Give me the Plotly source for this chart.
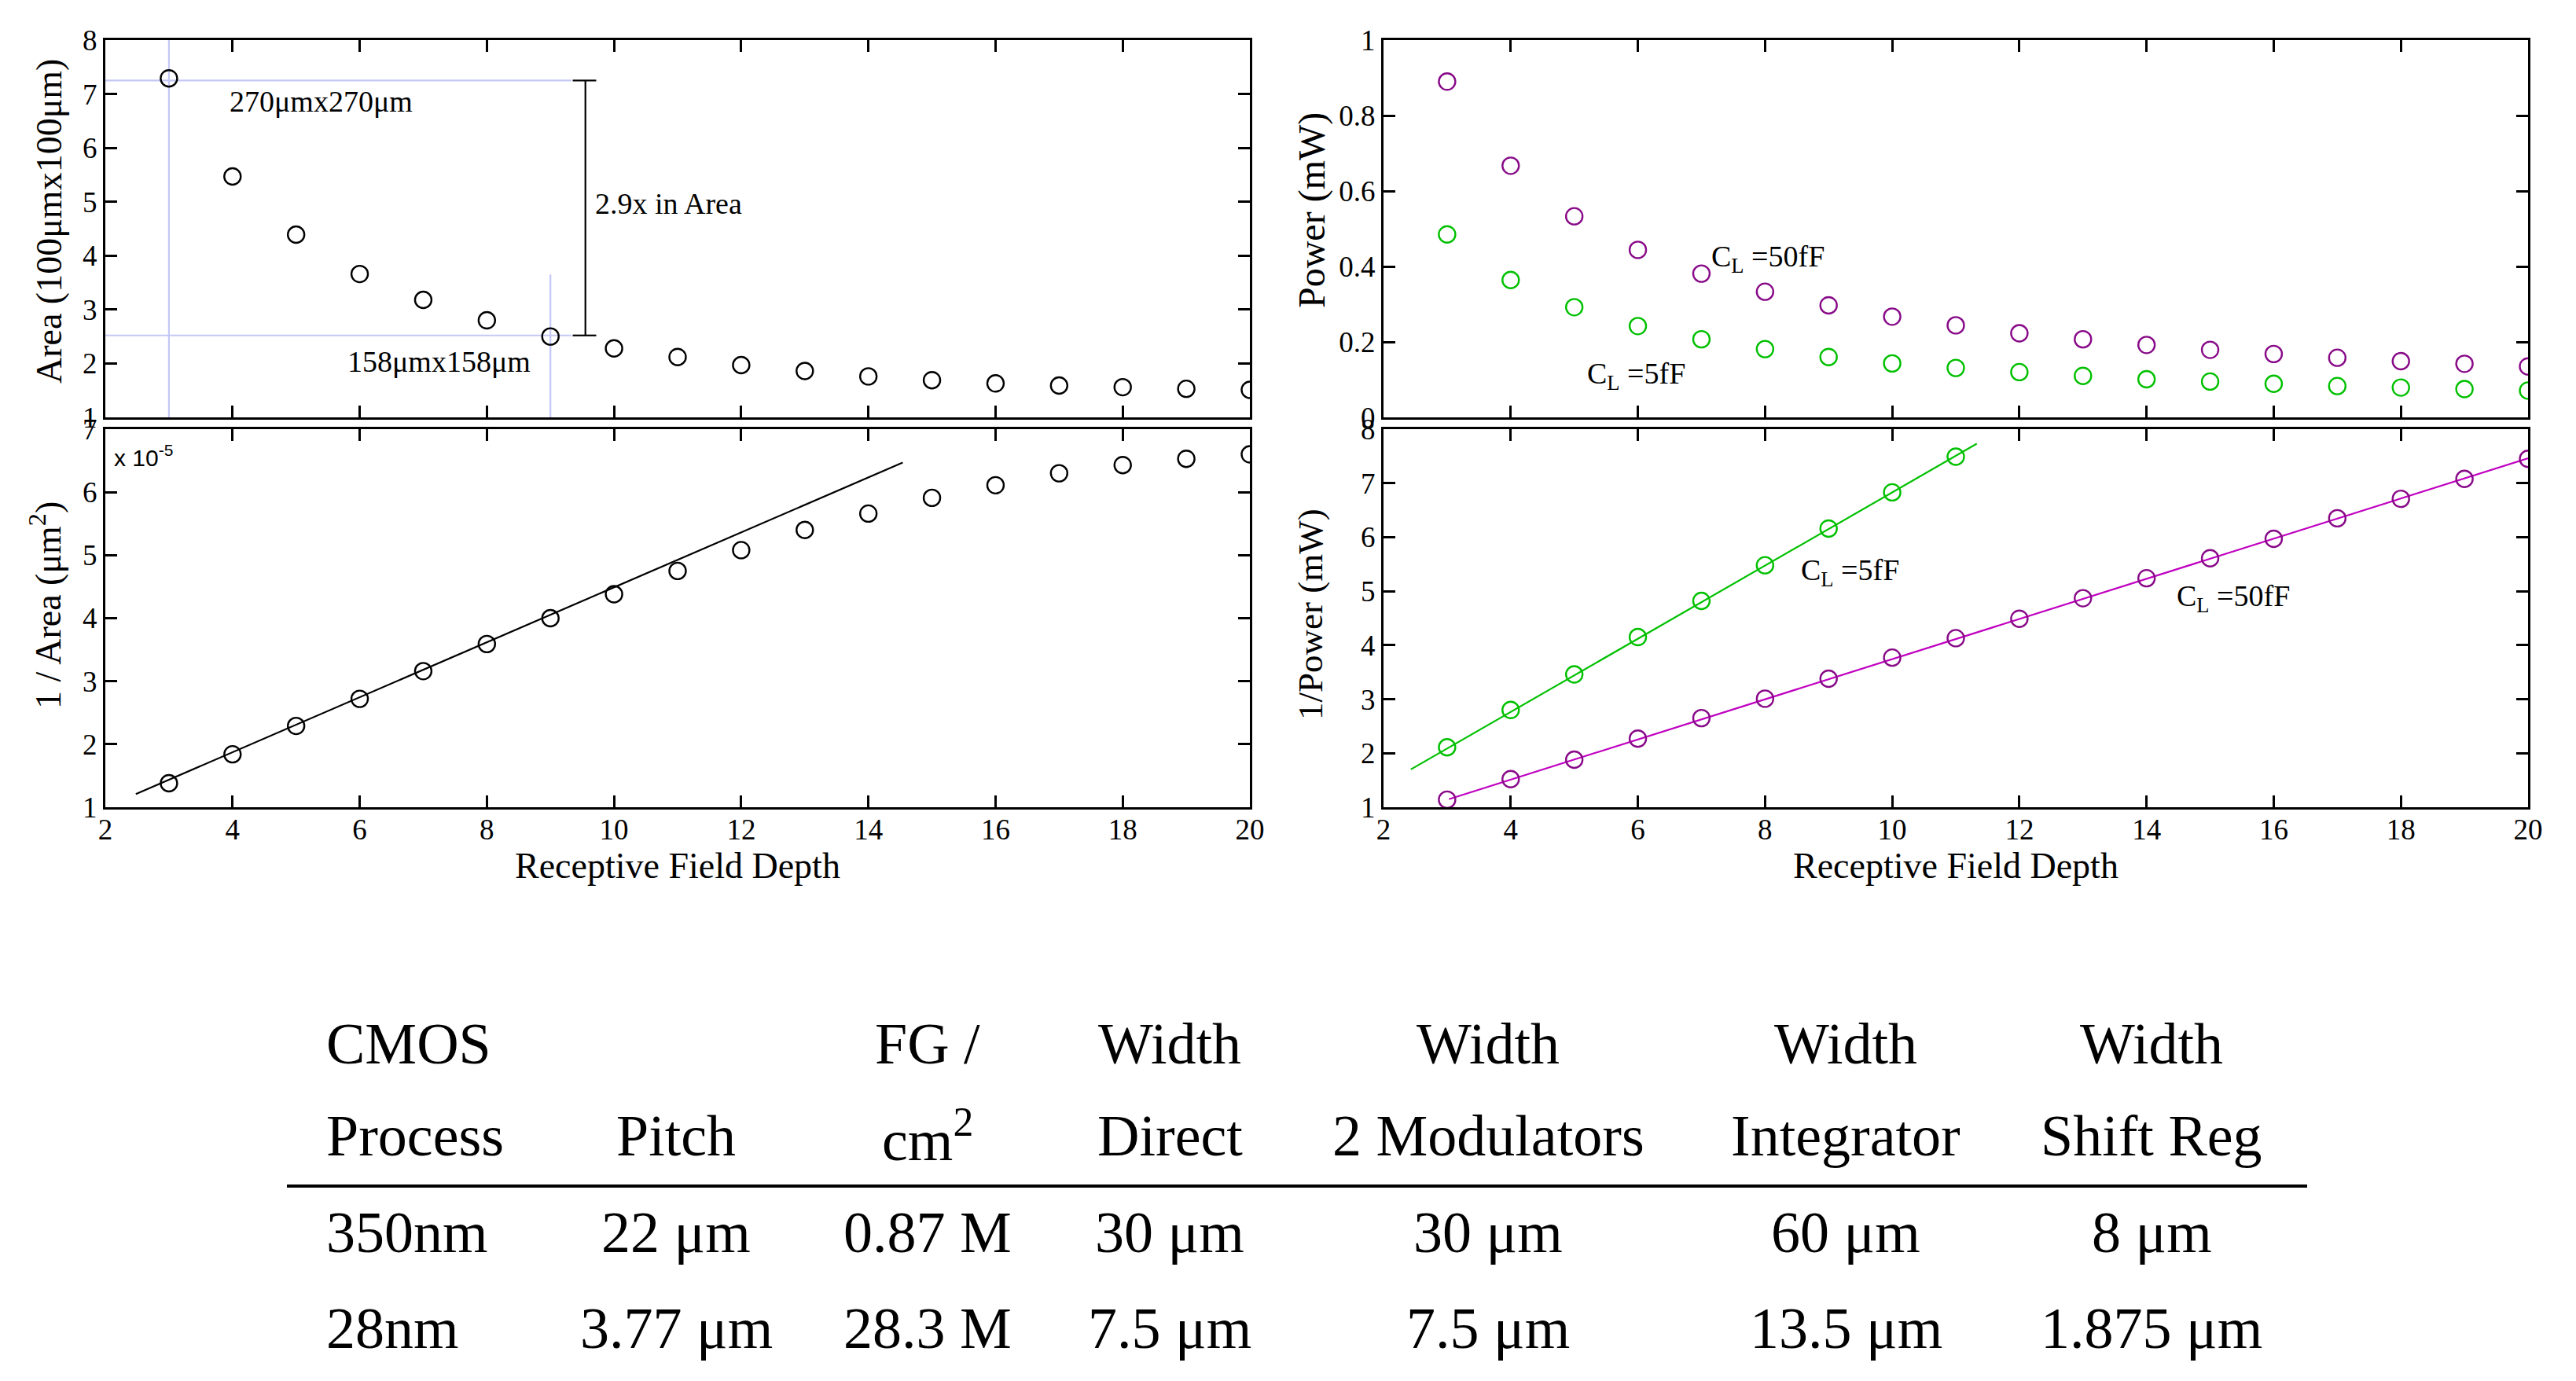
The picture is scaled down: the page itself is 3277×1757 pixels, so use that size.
import plotly.graph_objects as go

W, H = 3277, 1757
PAGE_MARGIN = 8  # default body margin of the html page

# receptive field depth (x for every panel)
depth = list(range(3, 21))
depth_5f = list(range(3, 12))

# top-left: area in units of 100um x 100um
area = [7.29, 5.47, 4.39, 3.66, 3.18, 2.80, 2.50, 2.28, 2.12, 1.97,
        1.86, 1.76, 1.69, 1.63, 1.59, 1.56, 1.53, 1.51]
# bottom-left: 1/area (x 1e-5 per um^2)
inv_area = [1.38, 1.84, 2.29, 2.72, 3.16, 3.59, 4.00, 4.38, 4.75, 5.08,
            5.40, 5.66, 5.91, 6.11, 6.30, 6.43, 6.53, 6.60]
area_fit_x = [2.48, 14.54]
area_fit_y = [1.21, 6.47]

# top-right: power (mW)
power_50f = [0.890, 0.667, 0.533, 0.444, 0.381, 0.333, 0.297, 0.267, 0.244,
             0.223, 0.207, 0.192, 0.179, 0.168, 0.158, 0.149, 0.142, 0.135]
power_5f = [0.485, 0.364, 0.292, 0.242, 0.207, 0.181, 0.160, 0.143, 0.131,
            0.120, 0.110, 0.101, 0.095, 0.089, 0.083, 0.079, 0.075, 0.071]

# bottom-right: 1/power
inv_power_5f = [2.11, 2.80, 3.46, 4.15, 4.82, 5.48, 6.16, 6.83, 7.49]
inv_power_50f = [1.14, 1.52, 1.88, 2.27, 2.65, 3.01, 3.38, 3.77, 4.13,
                 4.49, 4.87, 5.24, 5.61, 5.97, 6.35, 6.71, 7.08, 7.45]
fit_5f_x = [2.43, 11.33]
fit_5f_y = [1.70, 7.73]
fit_50f_x = [3.03, 20]
fit_50f_y = [1.15, 7.46]

# guide lines on the area plot
guide_x = [3, 9]
guide_y = [7.25, 2.52]
guide_x_end = 9.33
guide_small_top = 3.65
bracket_x = 9.55
bracket_cap = [9.35, 9.72]

# table
header1 = ["CMOS", "", "FG /", "Width", "Width", "Width", "Width"]
header2 = ["Process", "Pitch", "cm<sup>2</sup>", "Direct", "2 Modulators", "Integrator", "Shift Reg"]
row_350 = ["350nm", "22 μm", "0.87 M", "30 μm", "30 μm", "60 μm", "8 μm"]
row_28 = ["28nm", "3.77 μm", "28.3 M", "7.5 μm", "7.5 μm", "13.5 μm", "1.875 μm"]
col_x = [413, 860, 1180, 1488, 1893, 2348, 2737]
row_y = [1328, 1445, 1568, 1690]

GREEN = "#00c000"
PURPLE = "#880a88"
MAGENTA = "#c000c0"
GUIDE = "#c4c8f6"
SERIF = "Liberation Serif"


def px(x):
    return (x - PAGE_MARGIN) / W


def py_(y):
    return 1 - (y - PAGE_MARGIN) / H


fig = go.Figure()


def circles(x, y, color, xa, ya):
    fig.add_trace(go.Scatter(x=x, y=y, mode="markers", xaxis=xa, yaxis=ya,
                             marker=dict(symbol="circle-open", size=21, color=color,
                                         line=dict(width=2.4, color=color)),
                             showlegend=False))


def line(x, y, color, xa, ya, width=2.2):
    fig.add_trace(go.Scatter(x=x, y=y, mode="lines", xaxis=xa, yaxis=ya,
                             line=dict(color=color, width=width), showlegend=False))


# guides (drawn first, below the markers)
line([2, guide_x_end], [guide_y[0], guide_y[0]], GUIDE, "x", "y")
line([2, guide_x_end], [guide_y[1], guide_y[1]], GUIDE, "x", "y")
line([guide_x[0], guide_x[0]], [1, 8], GUIDE, "x", "y")
line([guide_x[1], guide_x[1]], [1, guide_small_top], GUIDE, "x", "y")
line([bracket_x, bracket_x], guide_y, "black", "x", "y")
line(bracket_cap, [guide_y[0], guide_y[0]], "black", "x", "y")
line(bracket_cap, [guide_y[1], guide_y[1]], "black", "x", "y")

circles(depth, area, "black", "x", "y")

line(area_fit_x, area_fit_y, "black", "x2", "y2")
circles(depth, inv_area, "black", "x2", "y2")

circles(depth, power_50f, PURPLE, "x3", "y3")
circles(depth, power_5f, GREEN, "x3", "y3")

line(fit_5f_x, fit_5f_y, GREEN, "x4", "y4")
line(fit_50f_x, fit_50f_y, MAGENTA, "x4", "y4")
circles(depth_5f, inv_power_5f, GREEN, "x4", "y4")
circles(depth, inv_power_50f, PURPLE, "x4", "y4")

left = [px(134), px(1590)]
right = [px(1760), px(3216)]
top = [py_(531), py_(51)]
bottom = [py_(1027), py_(546)]

axis = dict(showline=True, linecolor="black", linewidth=3, mirror="ticks",
            ticks="inside", ticklen=15, tickwidth=3, tickcolor="black",
            showgrid=False, zeroline=False, automargin=False,
            tickfont=dict(family=SERIF, size=37, color="black"))

fig.update_layout(
    width=W, height=H,
    margin=dict(l=0, r=0, t=0, b=0, pad=0, autoexpand=False),
    paper_bgcolor="white", plot_bgcolor="white",
    xaxis=dict(axis, domain=left, anchor="y", range=[2, 20], dtick=2, showticklabels=False),
    yaxis=dict(axis, domain=top, anchor="x", range=[1, 8], dtick=1),
    xaxis2=dict(axis, domain=left, anchor="y2", range=[2, 20], dtick=2, ticklabelstandoff=-6),
    yaxis2=dict(axis, domain=bottom, anchor="x2", range=[1, 7], dtick=1),
    xaxis3=dict(axis, domain=right, anchor="y3", range=[2, 20], dtick=2, showticklabels=False),
    yaxis3=dict(axis, domain=top, anchor="x3", range=[0, 1], dtick=0.2),
    xaxis4=dict(axis, domain=right, anchor="y4", range=[2, 20], dtick=2, ticklabelstandoff=-6),
    yaxis4=dict(axis, domain=bottom, anchor="x4", range=[1, 8], dtick=1),
)

ann_font = dict(family=SERIF, size=38, color="black")


def note(text, x, y, xa, ya):
    fig.add_annotation(text=text, x=x, y=y, xref=xa, yref=ya, xanchor="left",
                       yanchor="middle", showarrow=False, font=ann_font)


note("270μmx270μm", 3.93, 6.86, "x", "y")
note("158μmx158μm", 5.78, 2.04, "x", "y")
note("2.9x in Area", 9.68, 4.97, "x", "y")
note("C<sub>L</sub> =50fF", 7.13, 0.421, "x3", "y3")
note("C<sub>L</sub> =5fF", 5.18, 0.110, "x3", "y3")
note("C<sub>L</sub> =5fF", 8.54, 5.35, "x4", "y4")
note("C<sub>L</sub> =50fF", 14.45, 4.87, "x4", "y4")

fig.add_annotation(text="x 10<sup>-5</sup>", x=px(143), y=py_(580), xref="paper", yref="paper",
                   xanchor="left", yanchor="middle", showarrow=False,
                   font=dict(family="Liberation Sans", size=30, color="black"))

y_titles = [("Area (100μmx100μm)", 62, 282, 46), ("1 / Area (μm<sup>2</sup>)", 58, 770, 46),
            ("Power (mW)", 1669, 268, 48), ("1/Power (mW)", 1667, 782, 45)]
for text, tx, ty, size in y_titles:
    fig.add_annotation(text=text, x=px(tx), y=py_(ty), xref="paper", yref="paper",
                       textangle=-90, xanchor="center", yanchor="middle", showarrow=False,
                       font=dict(family=SERIF, size=size, color="black"))
for tx in [862, 2488]:
    fig.add_annotation(text="Receptive Field Depth", x=px(tx), y=py_(1101), xref="paper",
                       yref="paper", xanchor="center", yanchor="middle", showarrow=False,
                       font=dict(family=SERIF, size=46, color="black"))

# table below the plots
table_font = dict(family=SERIF, size=74, color="black")
for ry, cells in zip(row_y, [header1, header2, row_350, row_28]):
    for i, (cx, cell) in enumerate(zip(col_x, cells)):
        if not cell:
            continue
        fig.add_annotation(text=cell, x=px(cx), y=py_(ry), xref="paper", yref="paper",
                           xanchor="left" if i == 0 else "center", yanchor="middle",
                           showarrow=False, font=table_font)

fig.add_shape(type="line", xref="paper", yref="paper", x0=px(365), x1=px(2935),
              y0=py_(1509), y1=py_(1509), line=dict(color="black", width=4))

fig.write_html("out.html")
